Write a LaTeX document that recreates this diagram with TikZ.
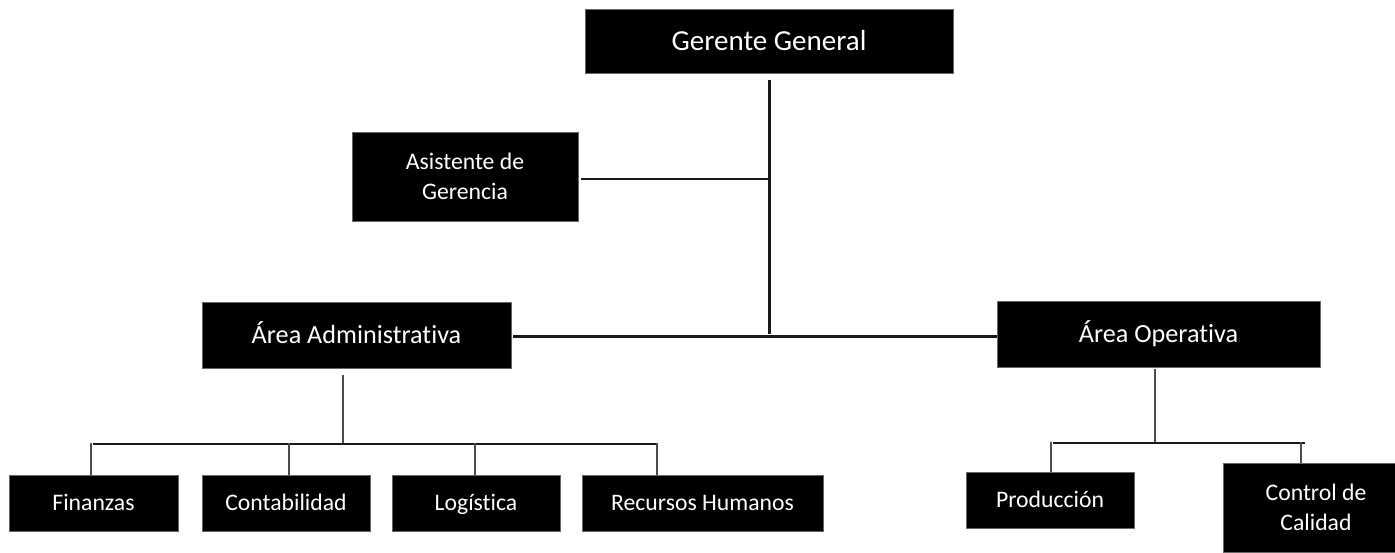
\documentclass[tikz,border=0pt]{standalone}
\usepackage{fontspec}
\setmainfont{Carlito}[Ligatures=NoCommon]
\usetikzlibrary{calc}
\tikzset{
  box/.style={rectangle, fill=black, draw=black!60, line width=0.8pt, text=white, inner sep=0pt, align=center},
  tbig/.style={font=\fontsize{29}{35}\selectfont, text height=18.3pt, text depth=0pt},
  tmid/.style={font=\fontsize{26.2}{32}\selectfont, text height=16.6pt, text depth=0pt},
  tsmall/.style={font=\fontsize{23.7}{29.5}\selectfont, text height=15pt, text depth=0pt},
  ttwo/.style={font=\fontsize{23.7}{30}\selectfont},
  thick line/.style={line width=3pt, draw=black!90},
  link/.style={line width=2pt, draw=black!90},
  droplink/.style={line width=2pt, draw=black!70},
}
\begin{document}
\begin{tikzpicture}[x=1pt,y=-1pt]
\useasboundingbox (0,0) rectangle (1395,552);
\begin{scope}
\clip (0,0) rectangle (1395,552);
% nodes
\node[box,tbig,minimum width=368pt,minimum height=64pt] (gg) at (769,41) {Gerente General};
\node[box,ttwo,minimum width=226pt,minimum height=89pt] (asis) at (465,176.5) {Asistente de\\Gerencia};
\node[box,tmid,minimum width=309pt,minimum height=66pt] (adm) at (356.5,335) {Área Administrativa};
\node[box,tmid,minimum width=323pt,minimum height=66pt] (ope) at (1158.5,334) {Área Operativa};
\node[box,tsmall,minimum width=169pt,minimum height=56pt] (fin) at (93.5,503) {Finanzas};
\node[box,tsmall,minimum width=168pt,minimum height=56pt] (con) at (286,503) {Contabilidad};
\node[box,tsmall,minimum width=168pt,minimum height=56pt] (log) at (476,503) {Logística};
\node[box,tsmall,minimum width=241pt,minimum height=56pt] (rh) at (702.5,503) {Recursos Humanos};
\node[box,tsmall,minimum width=168pt,minimum height=56pt] (prod) at (1050,500) {Producción};
\node[box,ttwo,minimum width=186pt,minimum height=89pt] (cal) at (1316,507.5) {Control de\\Calidad};
\end{scope}
% junction coordinates
\coordinate (gtop) at (769,80);
\coordinate (gbot) at (769,334);
\coordinate (aj) at (769,179);
\coordinate (hl) at (513,336);
\coordinate (admtop) at (343,375);
\coordinate (admbus) at (343,444);
\coordinate (bl) at (93,444);
\coordinate (br) at (658,444);
\coordinate (d1) at (91,443);
\coordinate (d2) at (289,443);
\coordinate (d3) at (475,443);
\coordinate (d4) at (657,443);
\coordinate (opetop) at (1155,369);
\coordinate (opebus) at (1155,443);
\coordinate (ol) at (1053,443);
\coordinate (or) at (1305,443);
\coordinate (e1) at (1051,442);
\coordinate (e2) at (1301,442);
% connectors
\draw[thick line] (gtop) -- (gbot);
\draw[link] ($(asis.east |- aj)+(3,0)$) -- (aj);
\draw[thick line] (hl) -- (hl -| ope.west);
\draw[droplink] (admtop) -- (admbus);
\draw[link] (bl) -- (br);
\draw[droplink] (d1) -- (d1 |- fin.north);
\draw[droplink] (d2) -- (d2 |- con.north);
\draw[droplink] (d3) -- (d3 |- log.north);
\draw[droplink] (d4) -- (d4 |- rh.north);
\draw[droplink] (opetop) -- (opebus);
\draw[link] (ol) -- (or);
\draw[droplink] (e1) -- (e1 |- prod.north);
\draw[droplink] (e2) -- (e2 |- cal.north);
\end{tikzpicture}
\end{document}
